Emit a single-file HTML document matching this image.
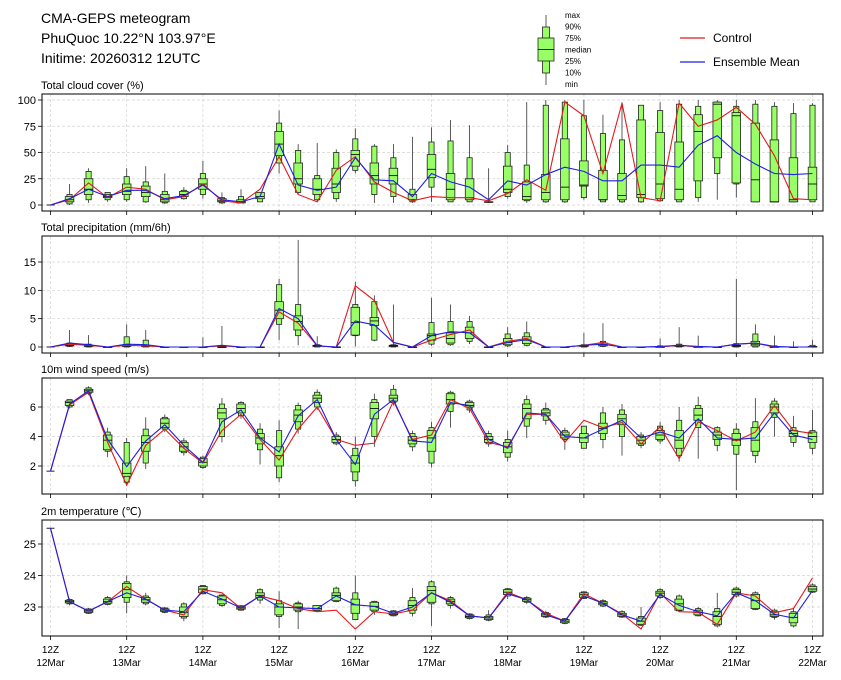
<!DOCTYPE html>
<html><head><meta charset="utf-8"><style>
body{margin:0;background:#fff;}
svg{display:block;font-family:"Liberation Sans","DejaVu Sans",sans-serif;}
</style></head><body>
<svg id="chart" width="841" height="680" viewBox="0 0 841 680" xmlns="http://www.w3.org/2000/svg">
<text x="41" y="23" font-size="14">CMA-GEPS meteogram</text>
<text x="41" y="43" font-size="14">PhuQuoc 10.22°N 103.97°E</text>
<text x="41" y="63" font-size="14">Initime: 20260312 12UTC</text>
<g>
<line x1="546" y1="15" x2="546" y2="85" stroke="#333" stroke-width="0.8"/>
<rect x="542.5" y="27" width="7" height="46" fill="#99ff66" stroke="#222" stroke-width="0.8"/>
<rect x="538" y="38" width="16" height="23" fill="#99ff66" stroke="#222" stroke-width="0.8"/>
<line x1="538" y1="49.5" x2="554" y2="49.5" stroke="#111" stroke-width="0.9"/>
<g font-size="8">
<text x="565" y="18">max</text><text x="565" y="29.5">90%</text><text x="565" y="41">75%</text><text x="565" y="52.5">median</text><text x="565" y="64">25%</text><text x="565" y="75.5">10%</text><text x="565" y="87">min</text>
</g></g>
<g font-size="12">
<line x1="680" y1="38" x2="705" y2="38" stroke="#e31a1c" stroke-width="1.2"/>
<text x="713" y="42">Control</text>
<line x1="680" y1="62" x2="705" y2="62" stroke="#1f1fe0" stroke-width="1.2"/>
<text x="713" y="66">Ensemble Mean</text>
</g>
</svg>
<script>
const dayLabels = ["12Mar","13Mar","14Mar","15Mar","16Mar","17Mar","18Mar","19Mar","20Mar","21Mar","22Mar"];

const cloudMin = [0,0,2,3,3,2,1,5,6,1,2,3,30,10,3,3,30,2,2,2,3,3,3,3,6,2,2,2,5,3,2,2,3,3,3,5,7,3,3,3,3];
const cloudP10 = [0,1,5,5,5,3,2,6,10,2,2,3,40,12,5,6,33,10,8,3,17,3,3,3,8,4,3,3,7,3,3,3,4,3,7,30,20,3,3,3,3];
const cloudP25 = [0,3,10,7,10,8,3,8,15,3,2,6,47,20,10,12,37,20,20,5,26,5,5,3,12,5,5,5,18,5,5,7,6,5,23,45,21,3,3,3,5];
const cloudMed = [0,5,15,8,13,12,5,10,20,4,3,8,58,25,15,20,48,28,28,5,34,15,7,3,15,8,12,17,19,5,9,10,20,15,70,96,85,24,3,5,20];
const cloudP75 = [0,8,25,10,20,18,10,13,25,6,5,12,70,40,25,35,52,40,35,10,48,30,25,3,37,22,29,63,42,33,30,81,69,60,86,98,88,78,62,45,36];
const cloudP90 = [0,10,32,12,27,22,13,14,30,7,8,12,78,52,28,50,63,56,45,15,60,61,45,3,50,38,95,98,85,68,62,95,90,96,94,98,94,96,94,87,95];
const cloudMax = [0,20,35,12,35,37,30,17,42,12,15,12,90,58,59,53,73,58,58,65,74,81,76,35,57,98,100,100,100,86,98,95,98,100,100,100,100,100,98,97,97];
const cloudControl = [0,5,21,7,17,15,5,8,20,4,2,15,46,10,3,33,46,22,12,4,8,7,7,4,11,24,14,98,85,30,97,7,4,97,75,81,93,77,47,6,5];
const cloudMean = [0,6,15,8,14,14,6,9,19,5,3,8,58,19,14,17,45,24,23,8,30,22,17,5,23,19,29,36,32,23,23,38,38,36,57,66,50,39,30,29,30];

const precMin = [0,0,0,0,0,0,0,0,0,0,0,0,1.2,0.3,0,0,0.1,1,0,0,0.2,0.2,0.5,0,0,0.1,0,0,0,0,0,0,0,0,0,0,0,0,0,0,0];
const precP10 = [0,0.1,0,0,0,0,0,0,0,0,0,0,4,2,0,0,2,1.2,0,0,0.5,0.4,1,0,0.2,0.3,0,0,0,0.1,0,0,0,0,0,0,0,0,0,0,0];
const precP25 = [0,0.2,0.1,0,0.1,0.1,0,0,0,0,0,0,5,3,0.1,0,2.1,3.8,0.1,0,1.2,0.7,1.5,0,0.4,0.6,0,0,0.1,0.2,0,0,0,0.1,0,0,0.1,0.2,0,0,0];
const precMed = [0,0.3,0.2,0,0.2,0.2,0,0,0,0,0,0,6.5,4.5,0.2,0,4.3,4.6,0.2,0,2,1.5,2.5,0,0.8,1.2,0,0,0.2,0.4,0,0,0,0.2,0,0,0.2,0.5,0,0,0];
const precP75 = [0,0.5,0.3,0,0.4,0.3,0,0,0,0,0,0,8,5.5,0.3,0,7,5.2,0.3,0,2.3,2.5,3.5,0,1.5,1.8,0,0,0.3,0.7,0,0,0,0.3,0,0,0.3,1,0,0,0.1];
const precP90 = [0,0.7,0.5,0,1.8,1.2,0,0,0,0,0,0,11,7.5,0.4,0,7.5,8,0.4,0,4.3,4.5,4.5,0,2.3,2.5,0,0,0.4,1,0,0,0.2,0.5,0.1,0,0.6,2.3,0.2,0,0.3];
const precMax = [0,3,2.1,0,4,3,0,0,1.7,3.7,0,0,12,18.9,1.9,0,11.5,9.1,7.5,0,8.7,7.5,5.5,0,3.5,4.5,0,0,2.5,4.2,0,0,1.5,3.5,2,0,12,4,2,1,1.3];
const precControl = [0,0.5,0.3,0,0.3,0.2,0,0,0,0.2,0,0,6.2,4.2,0.2,0,10.8,8.2,0.8,0,1.2,2.2,3,0,1,1.5,0,0,0.3,0.8,0,0,0,0.3,0,0,0.5,0.7,0,0,0];
const precMean = [0,0.7,0.4,0,0.5,0.4,0,0,0,0.3,0,0,6.8,5,0.2,0,4.6,3.9,0.8,0,2,2.7,2.5,0,0.8,1.3,0,0,0.3,0.5,0,0,0.1,0.3,0.1,0,0.5,0.7,0.1,0,0];

const windMin = [1.65,5.9,6.8,2.6,0.7,1.8,4.3,2.7,1.8,3.6,5.2,2.1,0.9,4.2,5.8,3.4,0.6,3.3,6.1,3.0,1.9,4.6,5.6,3.3,2.3,3.9,4.8,3.1,3.2,3.2,2.7,3.2,3.5,2.3,2.5,3.0,0.37,2.2,4.0,3.3,2.8];
const windP10 = [1.65,6.0,6.9,3.0,0.9,2.2,4.5,2.9,1.9,4.0,5.4,3.1,1.2,4.5,6.0,3.5,1.0,4.0,6.3,3.3,2.2,5.7,5.8,3.5,2.6,4.7,5.1,3.8,3.2,3.8,4.0,3.4,3.7,2.7,4.6,3.4,2.8,2.7,5.3,3.6,3.2];
const windP25 = [1.65,6.1,7.0,3.1,1.3,3.0,4.6,3.0,2.0,5.2,5.6,3.5,2.0,5.0,6.3,3.6,1.6,5.2,6.4,3.5,3.0,6.2,6.0,3.6,2.9,5.2,5.4,3.9,3.6,4.2,4.8,3.5,3.8,3.2,5.1,3.8,3.4,3.0,5.6,4.0,3.6];
const windMed = [1.65,6.3,7.1,3.75,1.5,3.6,4.9,3.3,2.25,5.6,5.9,3.9,2.7,5.45,6.6,3.8,2.2,5.9,6.6,3.75,3.9,6.5,6.1,3.8,3.3,5.9,5.6,4.1,3.9,4.55,5.2,3.75,4.1,3.75,5.45,4.1,3.75,3.75,6.0,4.2,4.0];
const windP75 = [1.65,6.4,7.2,4.1,2.2,4.05,5.2,3.6,2.5,5.9,6.2,4.2,3.3,5.8,6.8,4.0,2.7,6.3,6.8,4.0,4.4,6.9,6.3,4.0,3.6,6.2,5.8,4.3,4.2,4.9,5.5,4.0,4.4,4.4,5.9,4.3,4.2,4.6,6.2,4.4,4.3];
const windP90 = [1.65,6.5,7.3,4.3,3.6,4.5,5.3,3.7,2.6,6.2,6.3,4.5,4.4,6.1,7.0,4.1,3.2,6.5,7.2,4.2,4.6,7.0,6.4,4.2,3.8,6.5,5.9,4.4,4.7,5.6,5.8,4.1,4.7,5.1,6.1,4.6,4.5,5.0,6.4,4.6,4.4];
const windMax = [1.65,6.5,7.4,4.6,3.9,5.3,5.5,3.9,2.7,6.6,6.4,4.9,5.1,6.3,7.2,4.3,4.0,6.9,7.5,4.4,5.0,7.1,6.5,4.4,4.4,6.8,6.3,4.6,4.7,6.0,6.2,4.3,5.0,6.0,6.7,4.7,4.9,6.6,6.6,5.4,5.8];
const windControl = [1.65,6.15,7.0,3.6,0.7,3.4,4.5,3.2,2.2,4.4,5.5,3.8,2.4,4.5,6.0,3.8,3.4,3.55,6.4,3.8,4.1,6.5,5.9,3.6,3.3,5.5,5.5,3.6,5.1,4.6,4.95,3.5,4.65,2.5,5.0,4.4,3.7,4.3,6.1,4.4,4.2];
const windMean = [1.65,6.2,7.1,3.8,1.95,3.7,4.8,3.4,2.25,5.0,5.8,3.9,2.95,5.4,6.5,3.8,2.1,5.5,6.5,3.7,3.6,6.3,6.1,3.8,3.2,5.6,5.5,4.0,3.9,4.5,5.1,3.9,4.3,3.9,5.2,3.9,3.8,3.9,5.6,4.1,3.8];

const tempMin = [25.5,23.05,22.78,23.05,22.8,23.05,22.8,22.55,23.4,23.0,22.88,23.1,22.33,22.3,22.85,23.15,22.6,22.75,22.7,22.7,22.4,22.95,22.6,22.55,23.25,23.1,22.65,22.45,23.25,23.0,22.65,22.4,23.25,22.85,22.7,22.35,23.3,22.9,22.6,22.35,23.45];
const tempP10 = [25.5,23.1,22.8,23.08,23.15,23.1,22.83,22.65,23.42,23.05,22.9,23.22,22.7,22.85,22.87,23.17,22.6,22.85,22.72,22.8,23.1,23.05,22.63,22.58,23.35,23.15,22.68,22.48,23.27,23.03,22.68,22.42,23.3,22.88,22.72,22.4,23.35,22.92,22.67,22.4,23.47];
const tempP25 = [25.5,23.13,22.83,23.12,23.3,23.15,22.86,22.7,23.45,23.1,22.93,23.3,22.75,22.9,22.9,23.2,22.8,22.9,22.75,22.9,23.15,23.1,22.66,22.6,23.4,23.18,22.7,22.5,23.3,23.07,22.7,22.45,23.35,22.9,22.75,22.45,23.4,22.95,22.7,22.5,23.5];
const tempMed = [25.5,23.17,22.87,23.17,23.55,23.23,22.9,22.83,23.57,23.23,22.97,23.37,23.0,23.0,22.95,23.37,23.07,23.02,22.78,23.05,23.52,23.18,22.7,22.65,23.47,23.23,22.75,22.55,23.39,23.12,22.75,22.55,23.44,23.1,22.83,22.7,23.47,23.2,22.75,22.67,23.57];
const tempP75 = [25.5,23.21,22.91,23.25,23.75,23.3,22.94,23.0,23.65,23.35,23.01,23.45,23.1,23.1,23.05,23.45,23.25,23.15,22.85,23.2,23.65,23.25,22.75,22.7,23.55,23.28,22.8,22.6,23.45,23.17,22.8,22.65,23.5,23.25,22.9,22.85,23.55,23.4,22.85,22.8,23.65];
const tempP90 = [25.5,23.24,22.94,23.3,23.8,23.35,22.97,23.1,23.68,23.38,23.04,23.55,23.2,23.13,23.05,23.6,23.45,23.18,22.88,23.3,23.8,23.3,22.78,22.75,23.58,23.3,22.83,22.63,23.48,23.2,22.85,22.7,23.55,23.35,22.95,22.95,23.6,23.45,22.9,22.85,23.7];
const tempMax = [25.5,23.27,22.97,23.35,24.0,23.45,23.0,23.15,23.7,23.4,23.06,23.6,23.5,23.2,23.05,23.65,24.0,23.2,22.9,23.6,23.85,23.35,22.8,22.9,23.6,23.35,22.88,22.65,23.5,23.25,22.9,23.0,23.6,23.4,23.0,23.45,23.65,23.5,22.95,22.95,23.75];
const tempControl = [25.5,23.17,22.87,23.17,23.65,23.25,22.9,22.75,23.55,23.45,22.95,23.35,23.2,22.95,22.85,22.9,22.3,22.85,22.78,22.9,23.45,23.2,22.72,22.65,23.47,23.23,22.8,22.55,23.42,23.12,22.78,22.3,23.44,22.85,22.83,22.45,23.45,23.35,22.82,22.95,23.92];
const tempMean = [25.5,23.17,22.87,23.17,23.45,23.25,22.9,22.85,23.5,23.25,22.97,23.35,23.0,22.97,22.95,23.35,23.07,23.02,22.8,23.0,23.45,23.15,22.72,22.65,23.42,23.23,22.75,22.55,23.35,23.12,22.75,22.55,23.4,23.05,22.85,22.72,23.45,23.2,22.77,22.65,23.52];

const cloudTicks = [0,25,50,75,100];
const precTicks = [0,5,10,15];
const windTicks = [2,4,6];
const tempTicks = [23,24,25];

const NS = "http://www.w3.org/2000/svg";
const svg = document.getElementById("chart");
const X0 = 50.5, STEP = 19.05, LEFT = 42, RIGHT = 823;
function xScale(i){ return X0 + STEP*i; }
function mk(tag, attrs, parent){
  const e = document.createElementNS(NS, tag);
  for (const k in attrs) e.setAttribute(k, attrs[k]);
  (parent||svg).appendChild(e);
  return e;
}

const panels = [
  {name:"cloud", title:"Total cloud cover (%)", top:94, bottom:211, v0:0, y0:205, v1:100, y1:100, ticks:cloudTicks,
   s:[cloudMin,cloudP10,cloudP25,cloudMed,cloudP75,cloudP90,cloudMax], ctl:cloudControl, mean:cloudMean},
  {name:"precip", title:"Total precipitation (mm/6h)", top:236, bottom:353, v0:0, y0:347, v1:15, y1:262, ticks:precTicks,
   s:[precMin,precP10,precP25,precMed,precP75,precP90,precMax], ctl:precControl, mean:precMean},
  {name:"wind", title:"10m wind speed (m/s)", top:378, bottom:494, v0:2, y0:466, v1:6, y1:407, ticks:windTicks,
   s:[windMin,windP10,windP25,windMed,windP75,windP90,windMax], ctl:windControl, mean:windMean},
  {name:"temp", title:"2m temperature (\u2103)", top:520, bottom:636, v0:23, y0:607, v1:25, y1:544, ticks:tempTicks,
   s:[tempMin,tempP10,tempP25,tempMed,tempP75,tempP90,tempMax], ctl:tempControl, mean:tempMean}
];

panels.forEach((p, pi) => {
  const ys = v => p.y0 + (v - p.v0) * (p.y1 - p.y0) / (p.v1 - p.v0);
  const g = mk("g", {});
  
  
  const t = mk("text", {x:41, y:p.top-5, "font-size":11}, g);
  t.textContent = p.title;
  
  
  // grid
  for (let d = 0; d <= 10; d++) {
    const gl = mk("line", {x1:xScale(d*4), x2:xScale(d*4), y1:p.top, y2:p.bottom, stroke:"#d4d4d4", "stroke-width":0.7, "stroke-dasharray":"3,2"}, g);
    
    
    const tk = mk("line", {x1:xScale(d*4), x2:xScale(d*4), y1:p.bottom, y2:p.bottom+4, stroke:"#000", "stroke-width":0.8}, g);
    
    
  }
  p.ticks.forEach(v => {
    const y = ys(v);
    const gl = mk("line", {x1:LEFT, x2:RIGHT, y1:y, y2:y, stroke:"#d4d4d4", "stroke-width":0.7, "stroke-dasharray":"3,2"}, g);
    
    
    const tk = mk("line", {x1:LEFT-4, x2:LEFT, y1:y, y2:y, stroke:"#000", "stroke-width":0.8}, g);
    
    
    const tl = mk("text", {x:LEFT-6, y:y+4, "font-size":11, "text-anchor":"end"}, g);
    tl.textContent = v;
    
    
  });
  // boxes
  const [mn,p10,p25,md,p75,p90,mx] = p.s;
  for (let i = 0; i < md.length; i++) {
    const x = xScale(i);
    const bg = mk("g", {}, g);
    
    
    mk("line", {x1:x, x2:x, y1:ys(mx[i]), y2:ys(mn[i]), stroke:"#333", "stroke-width":0.8}, bg);
    if (i === 0) {
      mk("line", {x1:x-4, x2:x+4, y1:ys(md[i]), y2:ys(md[i]), stroke:"#222", "stroke-width":1}, bg);
      continue;
    }
    mk("rect", {x:x-2.6, y:ys(p90[i]), width:5.2, height:Math.max(0.5, ys(p10[i])-ys(p90[i])), fill:"#99ff66", stroke:"#222", "stroke-width":0.8}, bg);
    mk("rect", {x:x-4.3, y:ys(p75[i]), width:8.6, height:Math.max(0.5, ys(p25[i])-ys(p75[i])), fill:"#99ff66", stroke:"#222", "stroke-width":0.8}, bg);
    mk("line", {x1:x-4.3, x2:x+4.3, y1:ys(md[i]), y2:ys(md[i]), stroke:"#111", "stroke-width":0.9}, bg);
  }
  const ctl = mk("polyline", {points:p.ctl.map((v,i)=>xScale(i)+","+ys(v)).join(" "), fill:"none", stroke:"#e31a1c", "stroke-width":1.1}, g);
  
  
  const mean = mk("polyline", {points:p.mean.map((v,i)=>xScale(i)+","+ys(v)).join(" "), fill:"none", stroke:"#1f1fe0", "stroke-width":1.1}, g);
  
  
  const fr = mk("rect", {x:LEFT, y:p.top, width:RIGHT-LEFT, height:p.bottom-p.top, fill:"none", stroke:"#000", "stroke-width":1}, g);
  
  
  if (pi === panels.length - 1) {
    for (let d = 0; d <= 10; d++) {
      const a = mk("text", {x:xScale(d*4), y:p.bottom+17, "font-size":10, "text-anchor":"middle"}, g);
      a.textContent = "12Z";
      
      
      const b = mk("text", {x:xScale(d*4), y:p.bottom+30, "font-size":10, "text-anchor":"middle"}, g);
      b.textContent = dayLabels[d];
      
      
    }
  }
});
</script>
</body></html>
